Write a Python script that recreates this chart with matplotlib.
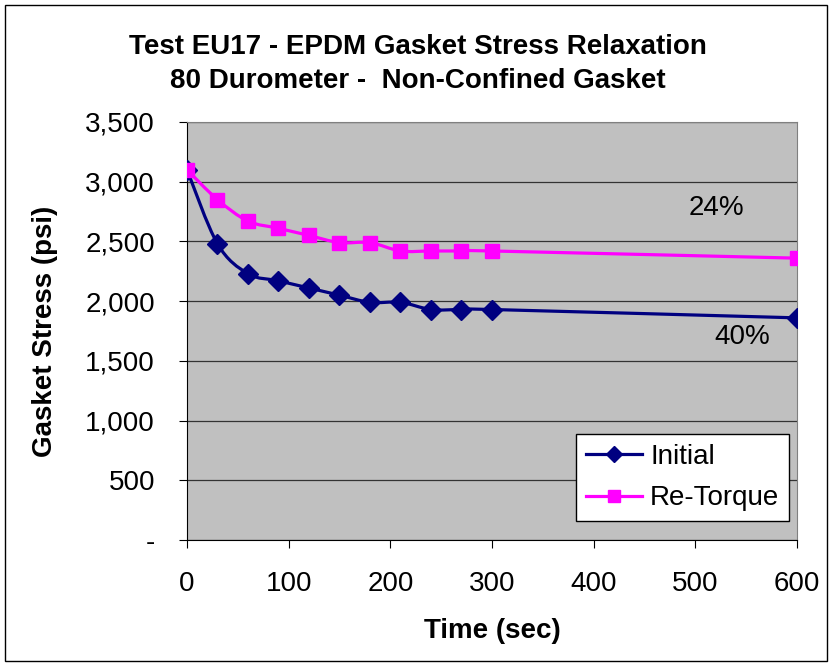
import matplotlib.pyplot as plt
from matplotlib.path import Path
from matplotlib.patches import PathPatch, Rectangle
from matplotlib.lines import Line2D

plt.rcParams["font.family"] = ["Liberation Sans", "DejaVu Sans"]

TIME = [0, 30, 60, 90, 120, 150, 180, 210, 240, 270, 300, 600]
INITIAL = [3100, 2480, 2230, 2170, 2110, 2050, 1990, 1990, 1930, 1930, 1930, 1860]
RETORQUE = [3100, 2850, 2670, 2610, 2550, 2490, 2490, 2420, 2420, 2420, 2420, 2360]
Y_TICKS = [0, 500, 1000, 1500, 2000, 2500, 3000, 3500]
X_TICKS = [0, 100, 200, 300, 400, 500, 600]


def smooth_path(x, y):
    # Excel-style smoothed line: Catmull-Rom segments as cubic Bezier
    pts = list(zip(x, y))
    verts = [pts[0]]
    codes = [Path.MOVETO]
    n = len(pts)
    for i in range(n - 1):
        p0 = pts[i - 1] if i > 0 else pts[i]
        p1 = pts[i]
        p2 = pts[i + 1]
        p3 = pts[i + 2] if i + 2 < n else pts[i + 1]
        c1 = (p1[0] + (p2[0] - p0[0]) / 6, p1[1] + (p2[1] - p0[1]) / 6)
        c2 = (p2[0] - (p3[0] - p1[0]) / 6, p2[1] - (p3[1] - p1[1]) / 6)
        verts += [c1, c2, p2]
        codes += [Path.CURVE4] * 3
    return Path(verts, codes)


fig = plt.figure(figsize=(8.3, 6.63), dpi=100)
fig.patches.append(Rectangle((0.006, 0.003), 0.99, 0.99, transform=fig.transFigure,
                             fill=False, edgecolor="black", linewidth=1.0))
ax = fig.add_axes([0.2253, 0.1855, 0.7349, 0.6305])
ax.set_facecolor("#C0C0C0")

for y, col, mk, ms in [(INITIAL, "#000080", "D", 10.5), (RETORQUE, "#FF00FF", "s", 10.5)]:
    ax.add_patch(PathPatch(smooth_path(TIME, y), fill=False, edgecolor=col, linewidth=2.3, zorder=3))
    ax.plot(TIME, y, linestyle="none", marker=mk, markersize=ms, color=col, zorder=4)

ax.set_xlim(0, 600)
ax.set_ylim(0, 3500)
ax.set_xticks(X_TICKS)
ax.set_yticks(Y_TICKS)
ax.set_yticklabels(["-" if v == 0 else f"{v:,}" for v in Y_TICKS])
ax.tick_params(axis="both", labelsize=20, direction="out", length=6, color="black")
ax.tick_params(axis="x", pad=16)
ax.tick_params(axis="y", pad=17)
ax.grid(axis="y", color="#333333", linewidth=0.9)
ax.set_axisbelow(True)
for s in ["top", "right"]:
    ax.spines[s].set_color("#808080")
for s in ["left", "bottom"]:
    ax.spines[s].set_color("black")

ax.set_xlabel("Time (sec)", fontsize=20, fontweight="bold")
ax.xaxis.set_label_coords(492 / 830, 1 - 618 / 663, transform=fig.transFigure)
ax.set_ylabel("Gasket Stress (psi)", fontsize=20, fontweight="bold")
ax.yaxis.set_label_coords(58 / 830, 0.5, transform=fig.transFigure)
fig.text(418 / 830, 1 - 64 / 663, "Test EU17 - EPDM Gasket Stress Relaxation\n80 Durometer -  Non-Confined Gasket",
         ha="center", va="center", fontsize=20, fontweight="bold", linespacing=1.35)

ax.text(521, 2780, "24%", fontsize=20, ha="center", va="center")
ax.text(546, 1700, "40%", fontsize=20, ha="center", va="center")

handles = [Line2D([], [], color="#000080", marker="D", markersize=8, linewidth=2.3),
           Line2D([], [], color="#FF00FF", marker="s", markersize=8, linewidth=2.3)]
leg = ax.legend(handles, ["Initial", "Re-Torque"], loc="lower right", bbox_to_anchor=(0.987, 0.045),
                fontsize=20, frameon=True, fancybox=False, edgecolor="black", framealpha=1,
                handlelength=2.0, borderpad=0.35, labelspacing=0.55, handletextpad=0.3,
                borderaxespad=0)
leg.get_frame().set_linewidth(1.0)

fig.savefig("out.png", dpi=100)
